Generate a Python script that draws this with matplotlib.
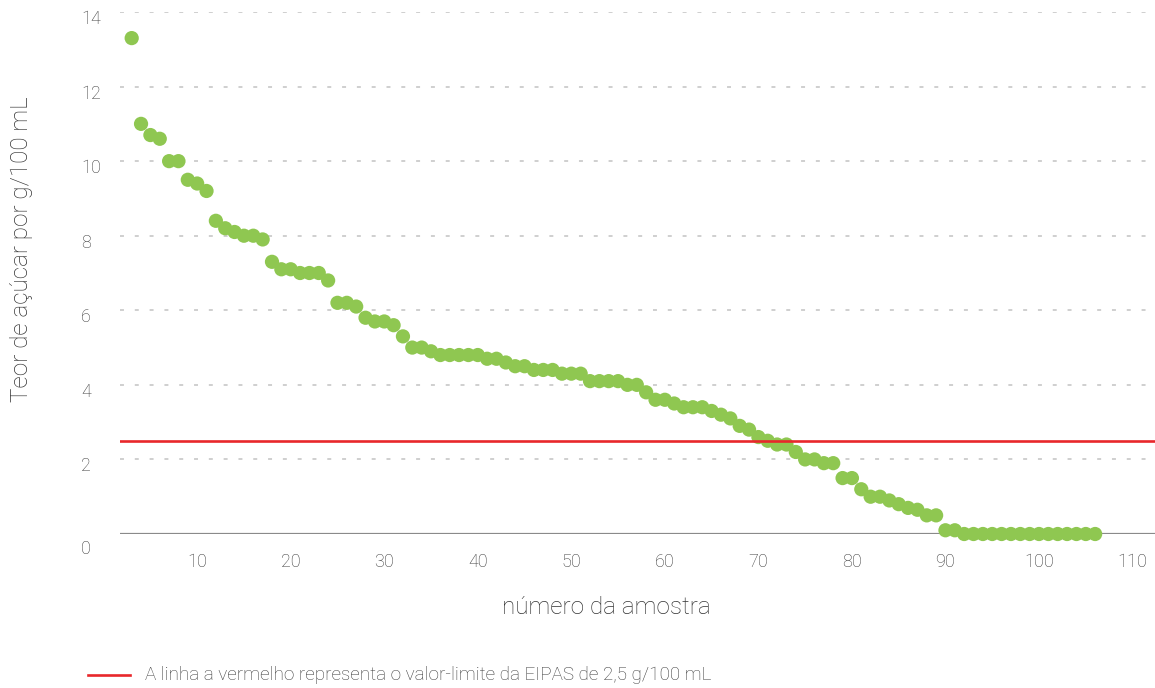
import matplotlib
matplotlib.use("Agg")
import matplotlib.pyplot as plt
import matplotlib.transforms as mtransforms
from matplotlib.lines import Line2D

# ---- data ----
sample_numbers = list(range(3, 107))
sugar_g_per_100ml = [
    13.3, 11.0, 10.7, 10.6, 10.0, 10.0, 9.5, 9.4, 9.2, 8.4,
    8.2, 8.1, 8.0, 8.0, 7.9, 7.3, 7.1, 7.1, 7.0, 7.0,
    7.0, 6.8, 6.2, 6.2, 6.1, 5.8, 5.7, 5.7, 5.6, 5.3,
    5.0, 5.0, 4.9, 4.8, 4.8, 4.8, 4.8, 4.8, 4.7, 4.7,
    4.6, 4.5, 4.5, 4.4, 4.4, 4.4, 4.3, 4.3, 4.3, 4.1,
    4.1, 4.1, 4.1, 4.0, 4.0, 3.8, 3.6, 3.6, 3.5, 3.4,
    3.4, 3.4, 3.3, 3.2, 3.1, 2.9, 2.8, 2.6, 2.5, 2.4,
    2.4, 2.2, 2.0, 2.0, 1.9, 1.9, 1.5, 1.5, 1.2, 1.0,
    1.0, 0.9, 0.8, 0.7, 0.65, 0.5, 0.5, 0.1, 0.1, 0.0,
    0.0, 0.0, 0.0, 0.0, 0.0, 0.0, 0.0, 0.0, 0.0, 0.0,
    0.0, 0.0, 0.0, 0.0,
]
limit_value = 2.5
x_ticks = [10, 20, 30, 40, 50, 60, 70, 80, 90, 100, 110]
y_ticks = [0, 2, 4, 6, 8, 10, 12, 14]
x_label = "número da amostra"
y_label = "Teor de açúcar por g/100 mL"
legend_text = "A linha a vermelho representa o valor-limite da EIPAS de 2,5 g/100 mL"

GREEN = "#8FC751"
RED = "#E8272B"
TEXT = "#3a3a3a"
FONT = "Roboto"

W, H = 1155, 688
fig = plt.figure(figsize=(W / 100, H / 100), dpi=100)
ax = fig.add_axes([120 / W, 154 / H, (W - 120) / W, 522 / H])

ax.set_xlim(1.75, 112.4)
ax.set_ylim(0, 14)

# gridlines
for yv in y_ticks[1:]:
    ax.axhline(yv, color="#cccccc", lw=1.3, linestyle=(0, (2.2, 6)), zorder=1)
ax.axhline(0, color="#8a8a8a", lw=1.6, zorder=2)
ax.axhline(limit_value, color=RED, lw=1.9, zorder=4)

ax.scatter(sample_numbers, sugar_g_per_100ml, s=105, color=GREEN,
           edgecolors="none", zorder=3, clip_on=False)

for s in ax.spines.values():
    s.set_visible(False)

ax.set_xticks(x_ticks)
ax.set_xticklabels([str(v) for v in x_ticks], fontsize=13, color=TEXT,
                   family=FONT, fontweight="light")
ax.set_yticks(y_ticks)
ax.set_yticklabels([str(v) for v in y_ticks], fontsize=13, color=TEXT,
                   family=FONT, fontweight="light", ha="left")
ax.tick_params(axis="x", length=0, pad=14)
ax.tick_params(axis="y", length=0, pad=28)
for lab, yv in zip(ax.get_yticklabels(), y_ticks):
    dy = -13 if yv == 0 else -5
    off = mtransforms.ScaledTranslation(0, dy / 100, fig.dpi_scale_trans)
    lab.set_transform(lab.get_transform() + off)

fig.text(606 / W, 1 - 608 / H, x_label, ha="center", va="center",
         fontsize=17.5, color="#333333", family=FONT, fontweight="light")
fig.text(22 / W, 1 - 249 / H, y_label, ha="center", va="center",
         rotation=90, fontsize=17.5, color="#333333", family=FONT,
         fontweight="light")

fig.add_artist(Line2D([88 / W, 130 / W], [1 - 675 / H, 1 - 675 / H],
                      color=RED, lw=1.9, transform=fig.transFigure))
fig.text(145 / W, 1 - 675 / H, legend_text, ha="left", va="center",
         fontsize=13.6, color="#3a3a3a", family=FONT, fontweight="light")

fig.savefig("out.png", dpi=100, facecolor="white")
